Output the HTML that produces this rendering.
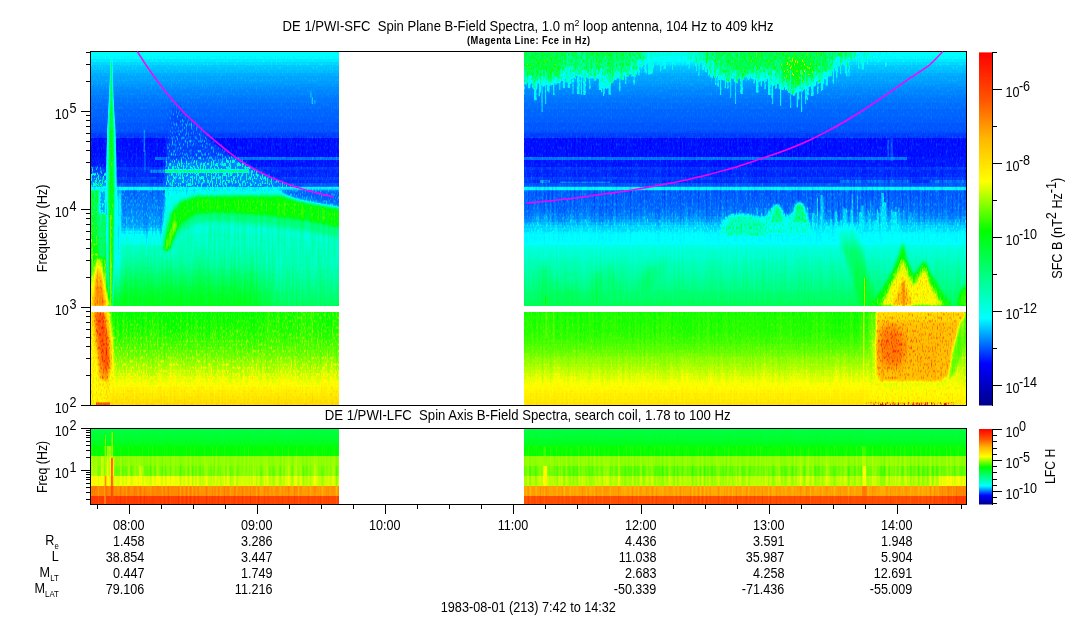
<!DOCTYPE html>
<html><head><meta charset="utf-8"><title>DE 1/PWI-SFC Spin Plane B-Field Spectra</title>
<style>html,body{margin:0;padding:0;background:#fff}svg{display:block}text{font-family:"Liberation Sans",Arial,Helvetica,sans-serif;fill:#000}</style></head><body>
<svg width="1083" height="620" viewBox="0 0 1083 620">
<defs>
<linearGradient id="cb" x1="0" y1="1" x2="0" y2="0"><stop offset="0.0000" stop-color="#000089"/><stop offset="0.1176" stop-color="#0000ff"/><stop offset="0.2471" stop-color="#00ffff"/><stop offset="0.4941" stop-color="#00ff00"/><stop offset="0.6353" stop-color="#ffff00"/><stop offset="0.7529" stop-color="#ffb900"/><stop offset="0.8667" stop-color="#ff5400"/><stop offset="1.0000" stop-color="#ff0000"/></linearGradient>
<filter id="cm" filterUnits="userSpaceOnUse" x="90" y="51" width="876" height="454" color-interpolation-filters="sRGB"><feColorMatrix in="SourceGraphic" type="matrix" values="1 0 0 0 0 1 0 0 0 0 1 0 0 0 0 0 0 0 0 1" result="idx"/><feColorMatrix in="SourceGraphic" type="matrix" values="0 1 0 0 0 0 1 0 0 0 0 1 0 0 0 0 0 0 0 1" result="ga"/><feColorMatrix in="SourceGraphic" type="matrix" values="0 0 1 0 0 0 0 1 0 0 0 0 1 0 0 0 0 0 0 1" result="sa"/><feTurbulence type="fractalNoise" baseFrequency="0.8 0.3" numOctaves="1" seed="5"/><feColorMatrix type="matrix" values="1 0 0 0 0 1 0 0 0 0 1 0 0 0 0 0 0 0 0 1" result="ng"/><feTurbulence type="fractalNoise" baseFrequency="0.5 0.02" numOctaves="1" seed="3"/><feColorMatrix type="matrix" values="1 0 0 0 0 1 0 0 0 0 1 0 0 0 0 0 0 0 0 1" result="ns"/><feComposite in="ng" in2="ga" operator="arithmetic" k1="2.0" k2="0" k3="-1.0" k4="0" result="t1"/><feComposite in="ns" in2="sa" operator="arithmetic" k1="2.0" k2="0" k3="-1.0" k4="0.5" result="t2"/><feComposite in="idx" in2="t1" operator="arithmetic" k1="0" k2="1" k3="1" k4="0" result="u1"/><feComposite in="u1" in2="t2" operator="arithmetic" k1="0" k2="1" k3="1" k4="-0.5" result="u2"/><feComponentTransfer in="u2"><feFuncR type="table" tableValues="0 0 0 0 0 0 0 0 0 0 0 0 0 0 0 0 0 0 0 0 0 0 0 0 0 0 0 0 0 0 0 0 0 0 0 0 0 0 0 0 0 0 0 0 0 0 0 0 0 0 0 0 0 0 0 0 0 0 0 0 0 0 0 0 0 0 0 0 0 0 0 0 0 0 0 0 0 0 0 0 0 0 0 0 0 0 0 0 0 0 0 0 0 0 0 0 0 0 0 0 0 0 0 0 0 0 0 0 0 0 0 0 0 0 0 0 0 0 0 0 0 0 0 0 0 0 0 0.027 0.055 0.082 0.11 0.137 0.165 0.196 0.224 0.251 0.278 0.306 0.333 0.361 0.388 0.416 0.443 0.471 0.502 0.529 0.557 0.584 0.612 0.639 0.667 0.694 0.722 0.749 0.776 0.804 0.831 0.863 0.89 0.918 0.945 0.973 1 1 1 1 1 1 1 1 1 1 1 1 1 1 1 1 1 1 1 1 1 1 1 1 1 1 1 1 1 1 1 1 1 1 1 1 1 1 1 1 1 1 1 1 1 1 1 1 1 1 1 1 1 1 1 1 1 1 1 1 1 1 1 1 1 1 1 1 1 1 1 1 1 1 1 1 1 1 1 1 1 1 1 1 1 1 1 1 1 1 1 1 1 1"/><feFuncG type="table" tableValues="0 0 0 0 0 0 0 0 0 0 0 0 0 0 0 0 0 0 0 0 0 0 0 0 0 0 0 0 0 0 0 0.031 0.059 0.09 0.122 0.153 0.18 0.212 0.243 0.275 0.302 0.333 0.365 0.392 0.424 0.455 0.486 0.514 0.545 0.576 0.608 0.635 0.667 0.698 0.725 0.757 0.788 0.82 0.847 0.878 0.91 0.941 0.969 1 1 1 1 1 1 1 1 1 1 1 1 1 1 1 1 1 1 1 1 1 1 1 1 1 1 1 1 1 1 1 1 1 1 1 1 1 1 1 1 1 1 1 1 1 1 1 1 1 1 1 1 1 1 1 1 1 1 1 1 1 1 1 1 1 1 1 1 1 1 1 1 1 1 1 1 1 1 1 1 1 1 1 1 1 1 1 1 1 1 1 1 1 1 1 1 1 1 1 1 0.992 0.98 0.973 0.965 0.953 0.945 0.937 0.925 0.918 0.91 0.898 0.89 0.882 0.871 0.863 0.855 0.843 0.835 0.827 0.816 0.808 0.8 0.788 0.78 0.773 0.761 0.753 0.745 0.733 0.725 0.714 0.698 0.686 0.671 0.659 0.643 0.631 0.616 0.604 0.588 0.576 0.561 0.549 0.533 0.522 0.506 0.494 0.478 0.467 0.451 0.439 0.424 0.412 0.396 0.384 0.369 0.357 0.341 0.329 0.322 0.31 0.302 0.29 0.282 0.271 0.263 0.251 0.243 0.231 0.224 0.212 0.204 0.192 0.184 0.173 0.165 0.157 0.145 0.137 0.125 0.118 0.106 0.098 0.086 0.078 0.067 0.059 0.047 0.039 0.027 0.02 0.008 0"/><feFuncB type="table" tableValues="0.537 0.553 0.569 0.584 0.6 0.616 0.631 0.647 0.659 0.675 0.69 0.706 0.722 0.737 0.753 0.769 0.784 0.8 0.816 0.831 0.847 0.863 0.878 0.89 0.906 0.922 0.937 0.953 0.969 0.984 1 1 1 1 1 1 1 1 1 1 1 1 1 1 1 1 1 1 1 1 1 1 1 1 1 1 1 1 1 1 1 1 1 1 0.984 0.969 0.953 0.937 0.922 0.906 0.89 0.875 0.859 0.843 0.824 0.808 0.792 0.776 0.761 0.745 0.729 0.714 0.698 0.682 0.667 0.651 0.635 0.62 0.604 0.588 0.573 0.557 0.541 0.525 0.51 0.49 0.475 0.459 0.443 0.427 0.412 0.396 0.38 0.365 0.349 0.333 0.318 0.302 0.286 0.271 0.255 0.239 0.224 0.208 0.192 0.176 0.157 0.141 0.125 0.11 0.094 0.078 0.063 0.047 0.031 0.016 0 0 0 0 0 0 0 0 0 0 0 0 0 0 0 0 0 0 0 0 0 0 0 0 0 0 0 0 0 0 0 0 0 0 0 0 0 0 0 0 0 0 0 0 0 0 0 0 0 0 0 0 0 0 0 0 0 0 0 0 0 0 0 0 0 0 0 0 0 0 0 0 0 0 0 0 0 0 0 0 0 0 0 0 0 0 0 0 0 0 0 0 0 0 0 0 0 0 0 0 0 0 0 0 0 0 0 0 0 0 0 0 0 0 0 0 0 0 0 0 0 0 0 0 0 0 0 0 0 0"/><feFuncA type="linear" slope="0" intercept="1"/></feComponentTransfer></filter>
<filter id="b05" x="-1" y="-1" width="3" height="3" color-interpolation-filters="sRGB"><feGaussianBlur stdDeviation="0.5"/></filter>
<filter id="b1" x="-1" y="-1" width="3" height="3" color-interpolation-filters="sRGB"><feGaussianBlur stdDeviation="1"/></filter>
<filter id="b15" x="-1" y="-1" width="3" height="3" color-interpolation-filters="sRGB"><feGaussianBlur stdDeviation="1.5"/></filter>
<filter id="b2" x="-1" y="-1" width="3" height="3" color-interpolation-filters="sRGB"><feGaussianBlur stdDeviation="2"/></filter>
<filter id="b3" x="-1" y="-1" width="3" height="3" color-interpolation-filters="sRGB"><feGaussianBlur stdDeviation="3"/></filter>
<filter id="b4" x="-1" y="-1" width="3" height="3" color-interpolation-filters="sRGB"><feGaussianBlur stdDeviation="4"/></filter>
<filter id="b6" x="-1" y="-1" width="3" height="3" color-interpolation-filters="sRGB"><feGaussianBlur stdDeviation="6"/></filter>
<filter id="b8" x="-1" y="-1" width="3" height="3" color-interpolation-filters="sRGB"><feGaussianBlur stdDeviation="8"/></filter>
<filter id="b12" x="-1" y="-1" width="3" height="3" color-interpolation-filters="sRGB"><feGaussianBlur stdDeviation="12"/></filter>
<clipPath id="cp"><rect x="90" y="51" width="249.0" height="354"/><rect x="524.0" y="51" width="442.0" height="354"/><rect x="90" y="428" width="249.0" height="76"/><rect x="524.0" y="428" width="442.0" height="76"/></clipPath>
<linearGradient id="g1" gradientUnits="userSpaceOnUse" x1="0" y1="51" x2="0" y2="405"><stop offset="0.0000" stop-color="#3f0500"/><stop offset="0.0078" stop-color="#3f0500"/><stop offset="0.0078" stop-color="#3e0500"/><stop offset="0.0155" stop-color="#3e0500"/><stop offset="0.0155" stop-color="#3d0500"/><stop offset="0.0233" stop-color="#3d0500"/><stop offset="0.0233" stop-color="#3b0500"/><stop offset="0.0311" stop-color="#3b0500"/><stop offset="0.0311" stop-color="#390500"/><stop offset="0.0388" stop-color="#390500"/><stop offset="0.0388" stop-color="#370500"/><stop offset="0.0466" stop-color="#370500"/><stop offset="0.0466" stop-color="#360500"/><stop offset="0.0544" stop-color="#360500"/><stop offset="0.0544" stop-color="#350500"/><stop offset="0.0621" stop-color="#350500"/><stop offset="0.0621" stop-color="#330500"/><stop offset="0.0699" stop-color="#330500"/><stop offset="0.0699" stop-color="#320500"/><stop offset="0.0777" stop-color="#320500"/><stop offset="0.0777" stop-color="#320500"/><stop offset="0.0855" stop-color="#320500"/><stop offset="0.0855" stop-color="#310500"/><stop offset="0.0932" stop-color="#310500"/><stop offset="0.0932" stop-color="#300500"/><stop offset="0.1010" stop-color="#300500"/><stop offset="0.1010" stop-color="#2f0500"/><stop offset="0.1088" stop-color="#2f0500"/><stop offset="0.1088" stop-color="#2e0500"/><stop offset="0.1165" stop-color="#2e0500"/><stop offset="0.1165" stop-color="#2e0500"/><stop offset="0.1243" stop-color="#2e0500"/><stop offset="0.1243" stop-color="#2d0500"/><stop offset="0.1321" stop-color="#2d0500"/><stop offset="0.1321" stop-color="#2c0500"/><stop offset="0.1398" stop-color="#2c0500"/><stop offset="0.1398" stop-color="#2c0500"/><stop offset="0.1476" stop-color="#2c0500"/><stop offset="0.1476" stop-color="#2b0500"/><stop offset="0.1554" stop-color="#2b0500"/><stop offset="0.1554" stop-color="#2b0500"/><stop offset="0.1631" stop-color="#2b0500"/><stop offset="0.1631" stop-color="#2a0500"/><stop offset="0.1709" stop-color="#2a0500"/><stop offset="0.1709" stop-color="#2a0500"/><stop offset="0.1787" stop-color="#2a0500"/><stop offset="0.1787" stop-color="#2a0500"/><stop offset="0.1864" stop-color="#2a0500"/><stop offset="0.1864" stop-color="#290500"/><stop offset="0.1942" stop-color="#290500"/><stop offset="0.1942" stop-color="#290500"/><stop offset="0.2020" stop-color="#290500"/><stop offset="0.2020" stop-color="#280500"/><stop offset="0.2097" stop-color="#280500"/><stop offset="0.2097" stop-color="#280500"/><stop offset="0.2175" stop-color="#280500"/><stop offset="0.2175" stop-color="#280500"/><stop offset="0.2253" stop-color="#280500"/><stop offset="0.2253" stop-color="#270500"/><stop offset="0.2328" stop-color="#270500"/><stop offset="0.2328" stop-color="#250500"/><stop offset="0.2444" stop-color="#250a03"/><stop offset="0.2444" stop-color="#1f0a03"/><stop offset="0.2986" stop-color="#1f0a03"/><stop offset="0.2986" stop-color="#2c0a03"/><stop offset="0.3085" stop-color="#2c0a03"/><stop offset="0.3085" stop-color="#200a03"/><stop offset="0.3277" stop-color="#200a03"/><stop offset="0.3277" stop-color="#240a03"/><stop offset="0.3367" stop-color="#240a03"/><stop offset="0.3367" stop-color="#220a03"/><stop offset="0.3551" stop-color="#220a03"/><stop offset="0.3551" stop-color="#250a03"/><stop offset="0.3644" stop-color="#250a03"/><stop offset="0.3644" stop-color="#230a03"/><stop offset="0.3734" stop-color="#230a03"/><stop offset="0.3734" stop-color="#280a03"/><stop offset="0.3836" stop-color="#280a03"/><stop offset="0.3836" stop-color="#3d0a03"/><stop offset="0.3935" stop-color="#3d1205"/><stop offset="0.3935" stop-color="#2a1205"/><stop offset="0.4017" stop-color="#2a1205"/><stop offset="0.4017" stop-color="#2b1205"/><stop offset="0.4098" stop-color="#2b1205"/><stop offset="0.4098" stop-color="#2b1205"/><stop offset="0.4180" stop-color="#2b1205"/><stop offset="0.4180" stop-color="#2c1205"/><stop offset="0.4262" stop-color="#2c1205"/><stop offset="0.4262" stop-color="#2c1205"/><stop offset="0.4343" stop-color="#2c1205"/><stop offset="0.4343" stop-color="#2d1205"/><stop offset="0.4425" stop-color="#2d1205"/><stop offset="0.4425" stop-color="#2d1205"/><stop offset="0.4506" stop-color="#2d1205"/><stop offset="0.4506" stop-color="#2e1205"/><stop offset="0.4588" stop-color="#2e1205"/><stop offset="0.4588" stop-color="#2e1205"/><stop offset="0.4670" stop-color="#2e1205"/><stop offset="0.4670" stop-color="#2f1205"/><stop offset="0.4751" stop-color="#2f1205"/><stop offset="0.4751" stop-color="#301205"/><stop offset="0.4833" stop-color="#301205"/><stop offset="0.4833" stop-color="#301205"/><stop offset="0.4915" stop-color="#301205"/><stop offset="0.4915" stop-color="#321205"/><stop offset="0.4996" stop-color="#321205"/><stop offset="0.4996" stop-color="#361205"/><stop offset="0.5078" stop-color="#360d0d"/><stop offset="0.5078" stop-color="#3b0d0d"/><stop offset="0.5160" stop-color="#3b0d0d"/><stop offset="0.5160" stop-color="#3e0d0d"/><stop offset="0.5241" stop-color="#3e0d0d"/><stop offset="0.5241" stop-color="#3f0d0d"/><stop offset="0.5323" stop-color="#3f0d0d"/><stop offset="0.5323" stop-color="#400d0d"/><stop offset="0.5405" stop-color="#400d0d"/><stop offset="0.5405" stop-color="#410d0d"/><stop offset="0.5486" stop-color="#410d0d"/><stop offset="0.5486" stop-color="#4a0d0d"/><stop offset="0.5568" stop-color="#4a0d0d"/><stop offset="0.5568" stop-color="#4b0d0d"/><stop offset="0.5649" stop-color="#4b0d0d"/><stop offset="0.5649" stop-color="#4c0d0d"/><stop offset="0.5731" stop-color="#4c0d0d"/><stop offset="0.5731" stop-color="#4d0d0d"/><stop offset="0.5813" stop-color="#4d0d0d"/><stop offset="0.5813" stop-color="#4e0d0d"/><stop offset="0.5894" stop-color="#4e0d0d"/><stop offset="0.5894" stop-color="#4f0d0d"/><stop offset="0.5976" stop-color="#4f0d0d"/><stop offset="0.5976" stop-color="#500d0d"/><stop offset="0.6058" stop-color="#500d0d"/><stop offset="0.6058" stop-color="#510d0d"/><stop offset="0.6139" stop-color="#510d0d"/><stop offset="0.6139" stop-color="#520d0d"/><stop offset="0.6221" stop-color="#520d0d"/><stop offset="0.6221" stop-color="#530d0d"/><stop offset="0.6303" stop-color="#530d0d"/><stop offset="0.6303" stop-color="#550d0d"/><stop offset="0.6384" stop-color="#550d0d"/><stop offset="0.6384" stop-color="#560d0d"/><stop offset="0.6466" stop-color="#560d0d"/><stop offset="0.6466" stop-color="#580d0d"/><stop offset="0.6547" stop-color="#580d0d"/><stop offset="0.6547" stop-color="#590d0d"/><stop offset="0.6629" stop-color="#590d0d"/><stop offset="0.6629" stop-color="#5b0d0d"/><stop offset="0.6711" stop-color="#5b0d0d"/><stop offset="0.6711" stop-color="#5c0d0d"/><stop offset="0.6792" stop-color="#5c0d0d"/><stop offset="0.6792" stop-color="#5e0d0d"/><stop offset="0.6874" stop-color="#5e0d0d"/><stop offset="0.6874" stop-color="#600d0d"/><stop offset="0.6956" stop-color="#600d0d"/><stop offset="0.6956" stop-color="#610d0d"/><stop offset="0.7037" stop-color="#610d0d"/><stop offset="0.7037" stop-color="#630d0d"/><stop offset="0.7119" stop-color="#630d0d"/><stop offset="0.7119" stop-color="#650d0d"/><stop offset="0.7201" stop-color="#650d0d"/><stop offset="0.7201" stop-color="#660d0d"/><stop offset="0.7203" stop-color="#661f08"/><stop offset="0.7203" stop-color="#661f08"/><stop offset="0.7373" stop-color="#801f08"/><stop offset="0.7373" stop-color="#801f08"/><stop offset="0.7455" stop-color="#801f08"/><stop offset="0.7455" stop-color="#811f08"/><stop offset="0.7537" stop-color="#811f08"/><stop offset="0.7537" stop-color="#811f08"/><stop offset="0.7619" stop-color="#811f08"/><stop offset="0.7619" stop-color="#811f08"/><stop offset="0.7701" stop-color="#811f08"/><stop offset="0.7701" stop-color="#821f08"/><stop offset="0.7782" stop-color="#821f08"/><stop offset="0.7782" stop-color="#821f08"/><stop offset="0.7864" stop-color="#821f08"/><stop offset="0.7864" stop-color="#821f08"/><stop offset="0.7946" stop-color="#821f08"/><stop offset="0.7946" stop-color="#831f08"/><stop offset="0.8028" stop-color="#831f08"/><stop offset="0.8028" stop-color="#841f08"/><stop offset="0.8110" stop-color="#841f08"/><stop offset="0.8110" stop-color="#851f08"/><stop offset="0.8192" stop-color="#851f08"/><stop offset="0.8192" stop-color="#861f08"/><stop offset="0.8274" stop-color="#861f08"/><stop offset="0.8274" stop-color="#871f08"/><stop offset="0.8356" stop-color="#871f08"/><stop offset="0.8356" stop-color="#881f08"/><stop offset="0.8438" stop-color="#881f08"/><stop offset="0.8438" stop-color="#8a1f08"/><stop offset="0.8520" stop-color="#8a1f08"/><stop offset="0.8520" stop-color="#8b1f08"/><stop offset="0.8602" stop-color="#8b1f08"/><stop offset="0.8602" stop-color="#8d1f08"/><stop offset="0.8684" stop-color="#8d1f08"/><stop offset="0.8684" stop-color="#8f1f08"/><stop offset="0.8766" stop-color="#8f1f08"/><stop offset="0.8766" stop-color="#911f08"/><stop offset="0.8847" stop-color="#911f08"/><stop offset="0.8847" stop-color="#931f08"/><stop offset="0.8929" stop-color="#931f08"/><stop offset="0.8929" stop-color="#951f08"/><stop offset="0.9011" stop-color="#951f08"/><stop offset="0.9011" stop-color="#971f08"/><stop offset="0.9093" stop-color="#971f08"/><stop offset="0.9093" stop-color="#991f08"/><stop offset="0.9175" stop-color="#991f08"/><stop offset="0.9175" stop-color="#9c1f08"/><stop offset="0.9257" stop-color="#9c1f08"/><stop offset="0.9257" stop-color="#9e1f08"/><stop offset="0.9339" stop-color="#9e0f08"/><stop offset="0.9339" stop-color="#a00f08"/><stop offset="0.9421" stop-color="#a00f08"/><stop offset="0.9421" stop-color="#a20f08"/><stop offset="0.9503" stop-color="#a20f08"/><stop offset="0.9503" stop-color="#a50f08"/><stop offset="0.9585" stop-color="#a50f08"/><stop offset="0.9585" stop-color="#a70f08"/><stop offset="0.9667" stop-color="#a70f08"/><stop offset="0.9667" stop-color="#a90f08"/><stop offset="0.9749" stop-color="#a90f08"/><stop offset="0.9749" stop-color="#ab0f08"/><stop offset="0.9831" stop-color="#ab0f08"/><stop offset="0.9831" stop-color="#ad0f08"/><stop offset="0.9912" stop-color="#ad0f08"/><stop offset="0.9912" stop-color="#af0f08"/><stop offset="0.9994" stop-color="#af0f08"/><stop offset="0.9994" stop-color="#b00f08"/><stop offset="1.0000" stop-color="#b00f08"/><stop offset="1.0000" stop-color="#b00f08"/></linearGradient><linearGradient id="g2" gradientUnits="userSpaceOnUse" x1="0" y1="51" x2="0" y2="405"><stop offset="0.0000" stop-color="#3f0500"/><stop offset="0.0078" stop-color="#3f0500"/><stop offset="0.0078" stop-color="#3e0500"/><stop offset="0.0155" stop-color="#3e0500"/><stop offset="0.0155" stop-color="#3d0500"/><stop offset="0.0233" stop-color="#3d0500"/><stop offset="0.0233" stop-color="#3b0500"/><stop offset="0.0311" stop-color="#3b0500"/><stop offset="0.0311" stop-color="#390500"/><stop offset="0.0388" stop-color="#390500"/><stop offset="0.0388" stop-color="#370500"/><stop offset="0.0466" stop-color="#370500"/><stop offset="0.0466" stop-color="#360500"/><stop offset="0.0544" stop-color="#360500"/><stop offset="0.0544" stop-color="#350500"/><stop offset="0.0621" stop-color="#350500"/><stop offset="0.0621" stop-color="#330500"/><stop offset="0.0699" stop-color="#330500"/><stop offset="0.0699" stop-color="#320500"/><stop offset="0.0777" stop-color="#320500"/><stop offset="0.0777" stop-color="#320500"/><stop offset="0.0855" stop-color="#320500"/><stop offset="0.0855" stop-color="#310500"/><stop offset="0.0932" stop-color="#310500"/><stop offset="0.0932" stop-color="#300500"/><stop offset="0.1010" stop-color="#300500"/><stop offset="0.1010" stop-color="#2f0500"/><stop offset="0.1088" stop-color="#2f0500"/><stop offset="0.1088" stop-color="#2e0500"/><stop offset="0.1165" stop-color="#2e0500"/><stop offset="0.1165" stop-color="#2e0500"/><stop offset="0.1243" stop-color="#2e0500"/><stop offset="0.1243" stop-color="#2d0500"/><stop offset="0.1321" stop-color="#2d0500"/><stop offset="0.1321" stop-color="#2c0500"/><stop offset="0.1398" stop-color="#2c0500"/><stop offset="0.1398" stop-color="#2c0500"/><stop offset="0.1476" stop-color="#2c0500"/><stop offset="0.1476" stop-color="#2b0500"/><stop offset="0.1554" stop-color="#2b0500"/><stop offset="0.1554" stop-color="#2b0500"/><stop offset="0.1631" stop-color="#2b0500"/><stop offset="0.1631" stop-color="#2a0500"/><stop offset="0.1709" stop-color="#2a0500"/><stop offset="0.1709" stop-color="#2a0500"/><stop offset="0.1787" stop-color="#2a0500"/><stop offset="0.1787" stop-color="#2a0500"/><stop offset="0.1864" stop-color="#2a0500"/><stop offset="0.1864" stop-color="#290500"/><stop offset="0.1942" stop-color="#290500"/><stop offset="0.1942" stop-color="#290500"/><stop offset="0.2020" stop-color="#290500"/><stop offset="0.2020" stop-color="#280500"/><stop offset="0.2097" stop-color="#280500"/><stop offset="0.2097" stop-color="#280500"/><stop offset="0.2175" stop-color="#280500"/><stop offset="0.2175" stop-color="#280500"/><stop offset="0.2253" stop-color="#280500"/><stop offset="0.2253" stop-color="#270500"/><stop offset="0.2328" stop-color="#270500"/><stop offset="0.2328" stop-color="#250500"/><stop offset="0.2444" stop-color="#250a03"/><stop offset="0.2444" stop-color="#1f0a03"/><stop offset="0.2986" stop-color="#1f0a03"/><stop offset="0.2986" stop-color="#2c0a03"/><stop offset="0.3085" stop-color="#2c0a03"/><stop offset="0.3085" stop-color="#200a03"/><stop offset="0.3277" stop-color="#200a03"/><stop offset="0.3277" stop-color="#240a03"/><stop offset="0.3367" stop-color="#240a03"/><stop offset="0.3367" stop-color="#220a03"/><stop offset="0.3551" stop-color="#220a03"/><stop offset="0.3551" stop-color="#250a03"/><stop offset="0.3644" stop-color="#250a03"/><stop offset="0.3644" stop-color="#230a03"/><stop offset="0.3734" stop-color="#230a03"/><stop offset="0.3734" stop-color="#280a03"/><stop offset="0.3836" stop-color="#280a03"/><stop offset="0.3836" stop-color="#3d0a03"/><stop offset="0.3935" stop-color="#3d0d08"/><stop offset="0.3935" stop-color="#280d08"/><stop offset="0.4017" stop-color="#280d08"/><stop offset="0.4017" stop-color="#290d08"/><stop offset="0.4098" stop-color="#290d08"/><stop offset="0.4098" stop-color="#290d08"/><stop offset="0.4180" stop-color="#290d08"/><stop offset="0.4180" stop-color="#290d08"/><stop offset="0.4262" stop-color="#290d08"/><stop offset="0.4262" stop-color="#2a0d08"/><stop offset="0.4343" stop-color="#2a0d08"/><stop offset="0.4343" stop-color="#2a0d08"/><stop offset="0.4425" stop-color="#2a0d08"/><stop offset="0.4425" stop-color="#2b0d08"/><stop offset="0.4506" stop-color="#2b0d08"/><stop offset="0.4506" stop-color="#2c0d08"/><stop offset="0.4588" stop-color="#2c0d08"/><stop offset="0.4588" stop-color="#2d0d08"/><stop offset="0.4670" stop-color="#2d0d08"/><stop offset="0.4670" stop-color="#2f0d08"/><stop offset="0.4751" stop-color="#2f0d08"/><stop offset="0.4751" stop-color="#310d08"/><stop offset="0.4833" stop-color="#310d08"/><stop offset="0.4833" stop-color="#350d08"/><stop offset="0.4915" stop-color="#350d08"/><stop offset="0.4915" stop-color="#390d08"/><stop offset="0.4996" stop-color="#390503"/><stop offset="0.4996" stop-color="#3c0503"/><stop offset="0.5078" stop-color="#3c0503"/><stop offset="0.5078" stop-color="#3d0503"/><stop offset="0.5160" stop-color="#3d0503"/><stop offset="0.5160" stop-color="#3e0503"/><stop offset="0.5241" stop-color="#3e0503"/><stop offset="0.5241" stop-color="#3e0503"/><stop offset="0.5323" stop-color="#3e0503"/><stop offset="0.5323" stop-color="#3e0503"/><stop offset="0.5405" stop-color="#3e0503"/><stop offset="0.5405" stop-color="#3f0503"/><stop offset="0.5486" stop-color="#3f0503"/><stop offset="0.5486" stop-color="#450503"/><stop offset="0.5568" stop-color="#450809"/><stop offset="0.5568" stop-color="#470809"/><stop offset="0.5649" stop-color="#470809"/><stop offset="0.5649" stop-color="#490809"/><stop offset="0.5731" stop-color="#490809"/><stop offset="0.5731" stop-color="#4a0809"/><stop offset="0.5813" stop-color="#4a0809"/><stop offset="0.5813" stop-color="#4c0809"/><stop offset="0.5894" stop-color="#4c0809"/><stop offset="0.5894" stop-color="#4e0809"/><stop offset="0.5976" stop-color="#4e0809"/><stop offset="0.5976" stop-color="#4f0809"/><stop offset="0.6058" stop-color="#4f0809"/><stop offset="0.6058" stop-color="#510809"/><stop offset="0.6139" stop-color="#510809"/><stop offset="0.6139" stop-color="#520809"/><stop offset="0.6221" stop-color="#520809"/><stop offset="0.6221" stop-color="#540809"/><stop offset="0.6303" stop-color="#540809"/><stop offset="0.6303" stop-color="#560809"/><stop offset="0.6384" stop-color="#560809"/><stop offset="0.6384" stop-color="#570809"/><stop offset="0.6466" stop-color="#570809"/><stop offset="0.6466" stop-color="#590809"/><stop offset="0.6547" stop-color="#590809"/><stop offset="0.6547" stop-color="#5b0809"/><stop offset="0.6629" stop-color="#5b0809"/><stop offset="0.6629" stop-color="#5c0809"/><stop offset="0.6711" stop-color="#5c0809"/><stop offset="0.6711" stop-color="#5e0809"/><stop offset="0.6792" stop-color="#5e0809"/><stop offset="0.6792" stop-color="#600809"/><stop offset="0.6874" stop-color="#600809"/><stop offset="0.6874" stop-color="#620809"/><stop offset="0.6956" stop-color="#620809"/><stop offset="0.6956" stop-color="#630809"/><stop offset="0.7037" stop-color="#630809"/><stop offset="0.7037" stop-color="#650809"/><stop offset="0.7119" stop-color="#650809"/><stop offset="0.7119" stop-color="#670809"/><stop offset="0.7201" stop-color="#670809"/><stop offset="0.7201" stop-color="#680809"/><stop offset="0.7203" stop-color="#680d06"/><stop offset="0.7203" stop-color="#680d06"/><stop offset="0.7373" stop-color="#800d06"/><stop offset="0.7373" stop-color="#800d06"/><stop offset="0.7455" stop-color="#800d06"/><stop offset="0.7455" stop-color="#810d06"/><stop offset="0.7537" stop-color="#810d06"/><stop offset="0.7537" stop-color="#810d06"/><stop offset="0.7619" stop-color="#810d06"/><stop offset="0.7619" stop-color="#810d06"/><stop offset="0.7701" stop-color="#810d06"/><stop offset="0.7701" stop-color="#820d06"/><stop offset="0.7782" stop-color="#820d06"/><stop offset="0.7782" stop-color="#820d06"/><stop offset="0.7864" stop-color="#820d06"/><stop offset="0.7864" stop-color="#820d06"/><stop offset="0.7946" stop-color="#820d06"/><stop offset="0.7946" stop-color="#830d06"/><stop offset="0.8028" stop-color="#830d06"/><stop offset="0.8028" stop-color="#840d06"/><stop offset="0.8110" stop-color="#840d06"/><stop offset="0.8110" stop-color="#850d06"/><stop offset="0.8192" stop-color="#850d06"/><stop offset="0.8192" stop-color="#860d06"/><stop offset="0.8274" stop-color="#860d06"/><stop offset="0.8274" stop-color="#880d06"/><stop offset="0.8356" stop-color="#880d06"/><stop offset="0.8356" stop-color="#890d06"/><stop offset="0.8438" stop-color="#890d06"/><stop offset="0.8438" stop-color="#8b0d06"/><stop offset="0.8520" stop-color="#8b0d06"/><stop offset="0.8520" stop-color="#8d0d06"/><stop offset="0.8602" stop-color="#8d0d06"/><stop offset="0.8602" stop-color="#8f0d06"/><stop offset="0.8684" stop-color="#8f0d06"/><stop offset="0.8684" stop-color="#910d06"/><stop offset="0.8766" stop-color="#910d06"/><stop offset="0.8766" stop-color="#920d06"/><stop offset="0.8847" stop-color="#920d06"/><stop offset="0.8847" stop-color="#940d06"/><stop offset="0.8929" stop-color="#940d06"/><stop offset="0.8929" stop-color="#960d06"/><stop offset="0.9011" stop-color="#960d06"/><stop offset="0.9011" stop-color="#980d06"/><stop offset="0.9093" stop-color="#980d06"/><stop offset="0.9093" stop-color="#9a0d06"/><stop offset="0.9175" stop-color="#9a0d06"/><stop offset="0.9175" stop-color="#9c0d06"/><stop offset="0.9257" stop-color="#9c0d06"/><stop offset="0.9257" stop-color="#9e0d06"/><stop offset="0.9339" stop-color="#9e0a06"/><stop offset="0.9339" stop-color="#a00a06"/><stop offset="0.9421" stop-color="#a00a06"/><stop offset="0.9421" stop-color="#a10a06"/><stop offset="0.9503" stop-color="#a10a06"/><stop offset="0.9503" stop-color="#a30a06"/><stop offset="0.9585" stop-color="#a30a06"/><stop offset="0.9585" stop-color="#a50a06"/><stop offset="0.9667" stop-color="#a50a06"/><stop offset="0.9667" stop-color="#a70a06"/><stop offset="0.9749" stop-color="#a70a06"/><stop offset="0.9749" stop-color="#a80a06"/><stop offset="0.9831" stop-color="#a80a06"/><stop offset="0.9831" stop-color="#aa0a06"/><stop offset="0.9912" stop-color="#aa0a06"/><stop offset="0.9912" stop-color="#ac0a06"/><stop offset="0.9994" stop-color="#ac0a06"/><stop offset="0.9994" stop-color="#ad0a06"/><stop offset="1.0000" stop-color="#ad0a06"/><stop offset="1.0000" stop-color="#ad0a06"/></linearGradient><linearGradient id="g3" gradientUnits="userSpaceOnUse" x1="0" y1="190.3" x2="0" y2="262"><stop offset="0.0000" stop-color="#3e0d0d"/><stop offset="0.1353" stop-color="#420d0d"/><stop offset="0.7768" stop-color="#440d0d"/><stop offset="1.0000" stop-color="#4a0d0d" stop-opacity="0.0"/></linearGradient><linearGradient id="g4" gradientUnits="userSpaceOnUse" x1="0" y1="252" x2="0" y2="320"><stop offset="0.0000" stop-color="#740d0d" stop-opacity="0"/><stop offset="0.4118" stop-color="#740d0d" stop-opacity="0.5"/><stop offset="0.7941" stop-color="#7c0d0d" stop-opacity="0.95"/><stop offset="1.0000" stop-color="#7c0d0d" stop-opacity="0.95"/></linearGradient><linearGradient id="g5" gradientUnits="userSpaceOnUse" x1="0" y1="164" x2="0" y2="306"><stop offset="0.0000" stop-color="#288000" stop-opacity="0"/><stop offset="0.1127" stop-color="#2e9900" stop-opacity="0.9"/><stop offset="0.1606" stop-color="#349900" stop-opacity="0.9"/><stop offset="0.1901" stop-color="#644c1a"/><stop offset="0.5352" stop-color="#724c1a"/><stop offset="0.6901" stop-color="#82331a"/><stop offset="1.0000" stop-color="#960d0d"/></linearGradient><linearGradient id="g6" gradientUnits="userSpaceOnUse" x1="0" y1="186" x2="0" y2="306"><stop offset="0.0000" stop-color="#3f0d0d" stop-opacity="0.3"/><stop offset="0.1167" stop-color="#3f0d0d"/><stop offset="0.6333" stop-color="#420d0d"/><stop offset="0.8667" stop-color="#5a0d0d" stop-opacity="0.6"/><stop offset="1.0000" stop-color="#6e0d0d" stop-opacity="0"/></linearGradient><linearGradient id="g7" gradientUnits="userSpaceOnUse" x1="0" y1="222" x2="0" y2="306"><stop offset="0.0000" stop-color="#640d0d" stop-opacity="0.0"/><stop offset="0.3333" stop-color="#700d0d" stop-opacity="0.6"/><stop offset="1.0000" stop-color="#780d0d" stop-opacity="0.8"/></linearGradient><linearGradient id="g8" gradientUnits="userSpaceOnUse" x1="0" y1="428" x2="0" y2="504.5"><stop offset="0.0000" stop-color="#6c0003"/><stop offset="0.2353" stop-color="#770003"/><stop offset="0.2353" stop-color="#7e000a"/><stop offset="0.3673" stop-color="#7e000a"/><stop offset="0.3673" stop-color="#920008"/><stop offset="0.4980" stop-color="#920008"/><stop offset="0.4980" stop-color="#90000f"/><stop offset="0.6275" stop-color="#90000f"/><stop offset="0.6275" stop-color="#a0000e"/><stop offset="0.7582" stop-color="#a0000e"/><stop offset="0.7582" stop-color="#ce000d"/><stop offset="0.8889" stop-color="#ce000d"/><stop offset="0.8889" stop-color="#e6000d"/><stop offset="1.0000" stop-color="#e6000d"/></linearGradient><linearGradient id="g9" gradientUnits="userSpaceOnUse" x1="0" y1="428" x2="0" y2="504.5"><stop offset="0.0000" stop-color="#6c0003"/><stop offset="0.2353" stop-color="#770003"/><stop offset="0.2353" stop-color="#7f000a"/><stop offset="0.3673" stop-color="#7f000a"/><stop offset="0.3673" stop-color="#920008"/><stop offset="0.4980" stop-color="#920008"/><stop offset="0.4980" stop-color="#8d000f"/><stop offset="0.6275" stop-color="#8d000f"/><stop offset="0.6275" stop-color="#97000e"/><stop offset="0.7582" stop-color="#97000e"/><stop offset="0.7582" stop-color="#c6000d"/><stop offset="0.8889" stop-color="#c6000d"/><stop offset="0.8889" stop-color="#df000d"/><stop offset="1.0000" stop-color="#df000d"/></linearGradient><linearGradient id="g10" gradientUnits="userSpaceOnUse" x1="170" y1="0" x2="339.5" y2="0"><stop offset="0.0000" stop-color="#99000f" stop-opacity="0"/><stop offset="0.3540" stop-color="#99000f" stop-opacity="0.8"/><stop offset="1.0000" stop-color="#99000f"/></linearGradient><linearGradient id="g11" gradientUnits="userSpaceOnUse" x1="150" y1="0" x2="339.5" y2="0"><stop offset="0.0000" stop-color="#c6000f" stop-opacity="0"/><stop offset="1.0000" stop-color="#c6000f" stop-opacity="0.8"/></linearGradient><linearGradient id="g12" gradientUnits="userSpaceOnUse" x1="150" y1="0" x2="339.5" y2="0"><stop offset="0.0000" stop-color="#e0000f" stop-opacity="0"/><stop offset="1.0000" stop-color="#e0000f" stop-opacity="0.8"/></linearGradient><linearGradient id="g13" gradientUnits="userSpaceOnUse" x1="930" y1="0" x2="966" y2="0"><stop offset="0.0000" stop-color="#a0000f" stop-opacity="0"/><stop offset="0.4167" stop-color="#a0000f" stop-opacity="0.8"/><stop offset="1.0000" stop-color="#a0000f" stop-opacity="0.9"/></linearGradient><linearGradient id="g14" gradientUnits="userSpaceOnUse" x1="930" y1="0" x2="966" y2="0"><stop offset="0.0000" stop-color="#d0000f" stop-opacity="0"/><stop offset="1.0000" stop-color="#d0000f"/></linearGradient><linearGradient id="g15" gradientUnits="userSpaceOnUse" x1="930" y1="0" x2="966" y2="0"><stop offset="0.0000" stop-color="#e8000f" stop-opacity="0"/><stop offset="1.0000" stop-color="#e8000f"/></linearGradient>
</defs>
<rect width="1083" height="620" fill="#fff"/>
<g clip-path="url(#cp)"><g filter="url(#cm)">
<rect x="90" y="51" width="876" height="453" fill="#7e0000"/>
<rect x="88.0" y="51.0" width="253.0" height="354.0" fill="url(#g1)"/>
<rect x="522.0" y="51.0" width="446.0" height="354.0" fill="url(#g2)"/>
<polygon points="172.0,112.0 176.0,105.0 184.0,114.1 192.0,122.1 200.0,130.1 208.0,137.7 216.0,144.1 224.0,150.4 232.0,156.4 240.0,161.2 248.0,166.0 256.0,170.7 264.0,174.7 272.0,178.7 280.0,182.4 288.0,185.2 296.0,188.0 300.0,190.0 166.0,190.0 166.0,150.0" fill="#262900" opacity="0.9" filter="url(#b2)"/>
<polygon points="166.0,162.0 236.0,158.8 244.0,163.6 252.0,168.4 260.0,172.7 268.0,176.7 276.0,180.7 284.0,183.8 292.0,186.6 300.0,186.8 166.0,186.8" fill="#306b00" opacity="0.85" filter="url(#b2)"/>
<rect x="88.0" y="156.5" width="67.0" height="4.0" fill="#200a03"/>
<rect x="165.0" y="169.6" width="84.0" height="3.2" fill="#54330d" filter="url(#b05)"/>
<rect x="150.0" y="169.6" width="15.0" height="3.2" fill="#320d0d" opacity="0.8"/>
<rect x="90.0" y="186.8" width="250.0" height="3.5" fill="#3d0808"/>
<rect x="310.0" y="91.0" width="1.5" height="6.0" fill="#3a0d0d" opacity="0.8"/>
<rect x="311.5" y="97.0" width="1.5" height="7.0" fill="#3a0d0d" opacity="0.8"/>
<rect x="314.0" y="100.0" width="1.5" height="4.0" fill="#370d0d" opacity="0.7"/>
<rect x="143.6" y="130.0" width="1.2" height="22.0" fill="#380d0d" opacity="0.7"/>
<rect x="144.4" y="150.0" width="1.2" height="20.0" fill="#360d0d" opacity="0.6"/>
<polygon points="165.0,190.3 281.0,190.3 287.0,197.6 165.0,197.6" fill="#3c9900" filter="url(#b05)"/>
<polygon points="166.0,190.3 340.0,190.3 340.0,262.0 160.0,262.0 163.0,235.0" fill="url(#g3)" filter="url(#b1)"/>
<polygon points="280.0,190.3 340.0,190.3 340.0,209.0 318.0,205.0 296.0,200.5 286.0,195.0" fill="#291a00" filter="url(#b1)"/>
<polygon points="163.0,252.0 166.0,232.0 171.0,214.0 180.0,202.0 196.0,196.5 281.0,196.0 296.0,201.0 318.0,205.5 340.0,209.0 340.0,240.0 310.0,233.0 275.0,227.5 240.0,224.0 212.0,222.0 195.0,224.5 182.0,231.0 174.0,242.0 168.0,252.0" fill="#680f0d" opacity="0.75" filter="url(#b3)"/>
<g filter="url(#b15)">
<polygon points="164.0,250.0 166.5,232.0 171.0,214.0 180.0,202.0 196.0,196.5 281.0,196.0 296.0,201.0 318.0,205.5 340.0,209.0 340.0,228.0 310.0,221.5 275.0,216.5 240.0,213.5 212.0,212.5 196.0,214.5 184.0,221.0 176.0,232.0 169.0,250.0" fill="#7b140f"/>
</g>
<polygon points="196.0,199.0 280.0,199.0 300.0,205.0 340.0,212.0 340.0,222.0 300.0,216.0 260.0,211.0 212.0,209.0 196.0,211.0" fill="#7f1a14" opacity="0.6" filter="url(#b2)"/>
<polygon points="174.0,221.0 178.0,222.0 170.0,248.0 164.5,251.0 166.0,240.0" fill="#8c0d0d" opacity="0.9" filter="url(#b1)"/>
<polygon points="176.0,240.0 190.0,230.0 212.0,227.0 275.0,231.0 340.0,241.0 340.0,262.0 176.0,262.0" fill="#500d14" opacity="0.8" filter="url(#b3)"/>
<rect x="100.0" y="252.0" width="165.0" height="68.0" fill="url(#g4)" filter="url(#b12)"/>
<rect x="88.0" y="164.0" width="18.0" height="142.0" fill="url(#g5)" filter="url(#b05)"/>
<rect x="98.8" y="190.3" width="7.3" height="24.0" fill="#2c3300" opacity="0.9" filter="url(#b1)"/>
<rect x="98.8" y="214.0" width="7.3" height="44.0" fill="#5c0d0d" opacity="0.8" filter="url(#b1)"/>
<rect x="88.0" y="186.8" width="20.0" height="3.5" fill="#3d0808"/>
<rect x="113.0" y="186.0" width="8.0" height="120.0" fill="url(#g6)" filter="url(#b1)"/>
<polygon points="110.6,54.0 112.2,54.0 113.7,100.0 115.5,130.0 116.3,160.0 116.8,190.0 116.0,250.0 113.0,306.0 108.3,306.0 106.0,190.0 106.3,160.0 107.2,130.0 108.8,100.0" fill="#420d0d" filter="url(#b05)"/>
<polygon points="111.0,62.0 111.9,62.0 112.4,100.0 113.4,130.0 114.2,160.0 114.5,190.0 113.5,260.0 112.5,306.0 109.0,306.0 108.2,190.0 108.4,160.0 109.4,130.0 110.3,100.0" fill="#6c331a" filter="url(#b05)"/>
<rect x="110.3" y="130.0" width="1.5" height="176.0" fill="#800d0d" opacity="0.8" filter="url(#b05)"/>
<rect x="109.8" y="215.0" width="1.6" height="91.0" fill="#960d0d" opacity="0.8" filter="url(#b05)"/>
<polygon points="98.6,256.0 104.0,275.0 110.5,306.0 90.0,306.0 90.0,285.0 94.0,270.0" fill="#9e0d0d" filter="url(#b1)"/>
<polygon points="98.6,266.0 102.5,280.0 107.0,306.0 92.0,306.0 95.0,280.0" fill="#be261a" filter="url(#b1)"/>
<polygon points="98.8,280.0 101.0,290.0 104.0,306.0 95.0,306.0 96.5,290.0" fill="#ce261a" opacity="0.9" filter="url(#b1)"/>
<polygon points="88.0,312.0 110.0,312.0 113.0,340.0 113.0,375.0 108.0,405.0 88.0,405.0" fill="#a4260d" filter="url(#b15)"/>
<polygon points="93.0,312.0 106.0,312.0 110.0,340.0 111.5,365.0 107.0,382.0 100.0,378.0 96.0,345.0" fill="#c8400d" filter="url(#b15)"/>
<polygon points="95.0,312.0 103.0,312.0 107.0,335.0 109.0,360.0 105.0,374.0 101.0,360.0 98.0,335.0" fill="#da400d" opacity="0.9" filter="url(#b1)"/>
<rect x="96.0" y="402.3" width="14.0" height="2.7" fill="#de0d0d" opacity="0.9"/>
<g filter="url(#b05)">
<path d="M522.0 50V94.4h2.4V84.4h2.4V82.8h1.2V88.3h2.4V83.5h1.2V83.8h1.2V88.6h1.2V100.3h2.4V88.8h1.2V83.4h1.2V96.2h1.2V92.5h1.2V85.2h1.2V86.4h1.2V86.2h1.2V85.7h1.2V85.2h1.2V90.9h1.2V92.5h1.2V83.9h1.2V85.6h1.2V85.1h1.2V94.8h1.2V83.0h1.2V84.7h1.2V83.6h2.4V90.1h1.2V81.3h1.2V80.9h1.2V88.2h2.4V78.9h1.2V78.5h1.2V88.1h2.4V84.1h1.2V79.3h1.2V94.1h1.2V78.3h1.2V76.1h2.4V93.9h2.4V77.3h1.2V94.8h1.2V77.4h1.2V95.1h2.4V77.6h1.2V78.1h1.2V78.0h1.2V89.2h1.2V78.2h2.4V78.7h1.2V78.5h1.2V80.0h1.2V78.8h2.4V90.1h2.4V91.8h1.2V85.1h1.2V94.1h1.2V88.3h1.2V89.0h1.2V87.9h1.2V94.5h2.4V83.4h1.2V80.8h1.2V80.4h1.2V79.8h2.4V78.5h2.4V91.6h1.2V76.5h1.2V80.1h2.4V76.2h1.2V83.7h1.2V75.5h1.2V75.1h2.4V74.2h1.2V76.7h1.2V72.4h1.2V84.9h1.2V76.8h1.2V74.6h1.2V71.8h1.2V75.5h1.2V67.6h1.2V69.5h1.2V66.9h1.2V65.2h1.2V72.5h1.2V73.3h1.2V63.4h1.2V74.7h2.4V74.1h2.4V68.5h1.2V60.3h1.2V55.4h2.4V59.0h1.2V54.0h1.2V71.7h1.2V61.9h2.4V69.1h2.4V56.1h2.4V57.3h1.2V54.9h1.2V56.7h1.2V70.1h1.2V56.9h1.2V54.5h2.4V55.3h1.2V60.6h1.2V57.3h1.2V60.1h1.2V56.9h2.4V55.0h1.2V54.3h1.2V64.4h2.4V68.5h1.2V56.6h2.4V58.0h1.2V61.3h1.2V66.4h1.2V70.5h1.2V62.7h1.2V75.8h1.2V63.3h2.4V70.3h2.4V67.0h2.4V68.9h1.2V75.9h1.2V74.7h1.2V77.5h1.2V78.4h1.2V76.1h2.4V84.6h1.2V76.7h1.2V87.0h1.2V80.1h1.2V94.8h1.2V79.7h1.2V80.5h2.4V88.2h1.2V79.6h1.2V88.6h1.2V80.6h1.2V78.9h1.2V78.7h2.4V78.5h2.4V79.3h1.2V80.1h1.2V77.4h1.2V77.5h1.2V94.0h2.4V80.0h1.2V76.8h1.2V77.2h1.2V76.1h1.2V80.1h1.2V79.1h1.2V76.8h1.2V78.6h1.2V76.9h1.2V83.6h1.2V79.5h1.2V92.6h2.4V81.6h2.4V86.3h1.2V81.0h2.4V89.0h1.2V81.3h1.2V79.3h1.2V95.1h2.4V81.3h1.2V97.8h1.2V86.1h1.2V84.4h1.2V86.3h1.2V83.9h2.4V88.5h1.2V89.7h2.4V89.8h1.2V87.5h1.2V89.8h2.4V89.6h2.4V92.8h2.4V93.0h1.2V94.8h2.4V92.7h1.2V107.6h1.2V99.6h1.2V91.8h1.2V91.6h1.2V91.5h1.2V90.3h1.2V89.3h2.4V99.8h1.2V94.9h1.2V86.6h2.4V96.0h2.4V86.7h1.2V85.6h1.2V81.6h1.2V94.0h1.2V84.1h1.2V78.7h1.2V90.7h1.2V89.9h1.2V83.7h1.2V76.6h1.2V85.4h2.4V76.4h2.4V71.3h1.2V70.3h1.2V83.6h1.2V68.7h1.2V70.9h1.2V77.4h1.2V66.6h2.4V74.0h1.2V64.6h2.4V63.2h1.2V73.8h1.2V76.5h1.2V65.4h1.2V76.2h1.2V59.8h2.4V59.8h1.2V60.4h2.4V59.5h1.2V57.0h1.2V68.2h1.2V57.9h1.2V63.9h1.2V69.8h2.4V54.3h1.2V54.8h1.2V63.5h1.2V57.1h2.4V55.0h1.2V62.0h1.2V52.2h1.2V59.6h1.2V61.6h1.2V50.9h2.4V63.2h1.2V59.1h1.2V51.6h1.2V50.0h1.2V50.2h1.2V50.0h1.2V66.4h1.2V50.0h1.2V50.0h1.2V52.3h2.4V50.0h1.2V53.7h2.4V50Z" fill="#3d3300"/>
<path d="M522.0 50V82.3h1.2V71.3h1.2V81.9h1.2V76.8h1.2V82.9h1.2V71.0h2.4V74.7h1.2V80.0h1.2V88.3h2.4V81.6h1.2V79.9h1.2V76.9h1.2V76.7h1.2V85.2h1.2V77.2h1.2V77.2h2.4V80.5h2.4V79.6h1.2V82.0h2.4V82.4h1.2V71.8h1.2V80.1h1.2V76.5h1.2V70.7h2.4V81.2h1.2V77.6h1.2V69.0h1.2V74.0h1.2V70.7h2.4V67.2h1.2V82.2h1.2V67.8h2.4V74.7h1.2V65.6h1.2V71.4h2.4V78.3h1.2V72.1h1.2V69.4h1.2V75.0h1.2V73.9h2.4V70.1h2.4V81.5h1.2V68.7h1.2V73.3h1.2V78.7h1.2V69.7h1.2V76.0h1.2V68.6h1.2V73.8h1.2V81.1h1.2V76.3h1.2V70.2h1.2V67.0h2.4V68.1h1.2V68.1h1.2V83.0h1.2V76.4h1.2V75.6h1.2V71.4h1.2V76.5h1.2V83.3h1.2V82.9h1.2V82.7h2.4V74.4h1.2V72.7h1.2V71.6h1.2V69.6h1.2V71.1h1.2V73.6h1.2V78.9h2.4V72.0h1.2V72.1h2.4V76.2h2.4V66.3h2.4V62.0h1.2V75.6h1.2V70.6h1.2V70.4h2.4V60.9h1.2V59.1h1.2V60.7h1.2V59.2h1.2V62.6h2.4V58.7h1.2V58.1h1.2V55.9h1.2V50.0h1.2V50.0h1.2V55.5h2.4V56.0h1.2V55.9h1.2V55.7h1.2V50.0h1.2V56.6h2.4V55.2h1.2V50.0h1.2V50.6h1.2V52.2h1.2V50.0h2.4V54.8h1.2V50.0h1.2V53.8h1.2V50.0h1.2V50.0h1.2V50.0h2.4V50.0h1.2V54.3h1.2V50.0h2.4V52.6h1.2V50.0h2.4V53.2h1.2V50.0h1.2V56.3h1.2V56.6h2.4V60.4h2.4V53.5h1.2V59.4h1.2V62.5h2.4V51.6h1.2V65.9h1.2V60.6h2.4V54.4h1.2V60.9h2.4V71.6h1.2V63.2h1.2V61.4h1.2V71.0h1.2V74.8h1.2V60.8h2.4V77.8h2.4V68.5h1.2V67.3h1.2V74.9h1.2V75.8h2.4V74.3h1.2V73.5h1.2V77.3h1.2V81.4h2.4V81.7h2.4V77.0h1.2V73.6h1.2V71.9h1.2V82.0h1.2V82.4h2.4V78.2h1.2V75.4h1.2V79.7h1.2V79.8h2.4V77.1h2.4V73.5h2.4V70.3h1.2V66.1h1.2V74.5h1.2V72.4h1.2V66.6h1.2V64.9h1.2V78.5h1.2V70.0h1.2V80.1h1.2V66.2h2.4V65.8h1.2V71.7h1.2V78.5h1.2V68.6h2.4V75.0h2.4V84.4h1.2V73.5h1.2V70.7h2.4V88.2h1.2V76.9h1.2V73.8h1.2V83.9h2.4V84.7h1.2V89.2h1.2V78.5h2.4V83.1h1.2V91.1h1.2V92.5h1.2V81.8h1.2V94.2h2.4V95.5h1.2V88.3h2.4V84.2h1.2V85.7h1.2V84.3h1.2V87.7h1.2V85.0h1.2V78.9h2.4V86.2h1.2V86.6h1.2V77.5h1.2V75.0h2.4V82.1h2.4V72.2h1.2V72.0h1.2V75.4h1.2V72.9h1.2V82.8h2.4V75.6h1.2V78.1h1.2V71.0h2.4V71.9h2.4V70.1h2.4V75.7h1.2V68.6h1.2V60.9h1.2V61.4h1.2V57.0h2.4V57.1h2.4V65.9h1.2V61.9h1.2V55.1h1.2V59.4h1.2V59.8h1.2V58.4h1.2V65.8h1.2V57.0h1.2V57.5h1.2V59.9h1.2V50.0h1.2V57.4h2.4V50.0h1.2V50.0h1.2V51.1h1.2V50.0h1.2V52.1h1.2V50.0h1.2V52.0h1.2V57.9h1.2V50.0h1.2V50.0h1.2V54.5h1.2V50.0h1.2V50.0h1.2V50.0h2.4V50.0h1.2V50.0h2.4V50.0h1.2V50.0h2.4V50.0h1.2V50.0h1.2V50.0h1.2V50.0h1.2V50.0h1.2V50.0h1.2V50.0h1.2V50.0h2.4V50Z" fill="#564c00"/>
<path d="M522.0 50V62.3h2.4V72.1h2.4V76.0h2.4V75.3h2.4V75.5h2.4V69.5h1.2V68.3h1.2V65.7h2.4V63.0h1.2V62.2h1.2V72.6h2.4V73.3h1.2V76.6h1.2V61.4h1.2V61.4h2.4V79.2h2.4V72.3h2.4V67.7h1.2V76.7h2.4V77.2h1.2V73.5h1.2V65.8h2.4V56.8h1.2V64.7h2.4V52.8h1.2V53.1h1.2V50.0h2.4V66.6h1.2V56.5h1.2V59.0h1.2V67.6h2.4V51.7h2.4V50.0h1.2V59.8h1.2V56.5h1.2V52.7h2.4V70.7h2.4V57.1h1.2V54.8h1.2V71.8h1.2V54.4h1.2V63.2h1.2V55.1h1.2V66.2h1.2V68.1h1.2V73.9h1.2V71.8h1.2V59.0h1.2V61.3h2.4V57.4h1.2V55.3h1.2V59.3h1.2V65.2h1.2V72.5h1.2V73.2h1.2V67.7h1.2V76.2h1.2V68.0h1.2V54.4h1.2V61.6h1.2V60.3h1.2V61.7h1.2V50.0h1.2V61.3h1.2V67.4h2.4V51.4h1.2V53.1h1.2V64.5h1.2V51.1h1.2V70.0h1.2V60.9h1.2V50.0h2.4V50.0h2.4V55.3h1.2V50.0h1.2V59.2h2.4V50.9h1.2V52.3h1.2V50.0h1.2V50.0h2.4V50.0h2.4V50.7h1.2V50.0h1.2V50.0h1.2V50.0h2.4V50.0h1.2V50.0h1.2V50.0h1.2V50.0h1.2V50.0h2.4V50.0h1.2V50.0h1.2V50.0h1.2V50.0h1.2V50.0h1.2V50.0h1.2V50.0h1.2V50.0h2.4V50.0h1.2V50.0h1.2V50.0h2.4V50.0h2.4V50.0h1.2V50.0h1.2V50.0h1.2V50.0h2.4V50.0h1.2V50.0h2.4V50.0h1.2V50.0h1.2V53.0h1.2V50.0h1.2V50.0h1.2V50.0h1.2V54.8h1.2V50.0h1.2V50.0h1.2V50.0h2.4V54.7h1.2V50.0h1.2V61.6h2.4V50.5h1.2V50.0h1.2V50.0h1.2V56.2h1.2V51.0h2.4V65.7h2.4V59.8h2.4V71.4h1.2V64.4h1.2V53.7h2.4V60.3h1.2V66.3h1.2V69.0h1.2V64.6h2.4V57.1h1.2V51.8h1.2V53.6h1.2V67.5h1.2V50.4h1.2V69.8h1.2V51.4h2.4V56.7h2.4V55.7h1.2V59.9h1.2V51.6h1.2V50.0h1.2V58.1h1.2V61.4h2.4V61.0h1.2V56.2h1.2V64.8h2.4V70.2h1.2V62.0h1.2V59.0h2.4V61.9h2.4V55.2h1.2V58.7h1.2V53.3h1.2V68.4h1.2V64.7h2.4V68.4h1.2V75.3h1.2V67.3h1.2V70.6h1.2V60.9h1.2V58.1h1.2V59.5h2.4V59.4h2.4V81.3h2.4V71.9h1.2V65.8h1.2V65.8h2.4V70.4h1.2V74.9h1.2V84.7h1.2V74.9h1.2V80.8h1.2V81.2h1.2V86.6h1.2V73.2h1.2V85.7h1.2V64.5h1.2V82.8h2.4V72.5h1.2V81.9h1.2V60.5h1.2V67.1h1.2V72.2h1.2V77.6h1.2V72.5h1.2V70.8h2.4V54.9h1.2V71.7h1.2V67.1h1.2V66.0h2.4V56.1h1.2V69.8h2.4V70.3h2.4V50.0h2.4V60.3h1.2V50.5h1.2V53.6h1.2V50.0h1.2V50.0h1.2V56.2h1.2V51.7h1.2V50.0h2.4V57.5h2.4V50.8h1.2V50.0h1.2V55.7h1.2V53.0h1.2V50.0h1.2V55.5h1.2V50.0h1.2V50.6h2.4V50.0h1.2V50.0h1.2V50.0h2.4V50.0h1.2V50.1h1.2V50.0h1.2V50.0h1.2V50.0h1.2V50.0h2.4V50.0h2.4V50.0h2.4V50.0h1.2V50.0h2.4V50.0h2.4V50.0h1.2V50.0h1.2V50.0h1.2V50Z" fill="#644c00"/>
</g>
<ellipse cx="797.0" cy="70.0" rx="16.0" ry="13.0" fill="#7e8000" opacity="0.7" filter="url(#b4)"/>
<ellipse cx="545.0" cy="68.0" rx="14.0" ry="10.0" fill="#764c00" opacity="0.5" filter="url(#b4)"/>
<ellipse cx="750.0" cy="64.0" rx="22.0" ry="10.0" fill="#744c00" opacity="0.5" filter="url(#b4)"/>
<polygon points="640.0,50.0 705.0,50.0 695.0,62.0 650.0,62.0" fill="#401a00" opacity="0.8" filter="url(#b3)"/>
<rect x="541.5" y="70.0" width="1.2" height="42.0" fill="#3e0d0d" opacity="0.8"/>
<rect x="545.0" y="70.0" width="1.2" height="34.0" fill="#3e0d0d" opacity="0.8"/>
<rect x="603.0" y="70.0" width="1.2" height="26.0" fill="#3e0d0d" opacity="0.8"/>
<rect x="730.0" y="70.0" width="1.2" height="28.0" fill="#3e0d0d" opacity="0.8"/>
<rect x="735.0" y="70.0" width="1.2" height="34.0" fill="#3e0d0d" opacity="0.8"/>
<rect x="772.0" y="70.0" width="1.2" height="34.0" fill="#3e0d0d" opacity="0.8"/>
<rect x="780.0" y="70.0" width="1.2" height="36.0" fill="#3e0d0d" opacity="0.8"/>
<rect x="790.0" y="70.0" width="1.2" height="38.0" fill="#3e0d0d" opacity="0.8"/>
<rect x="801.0" y="70.0" width="1.2" height="42.0" fill="#3e0d0d" opacity="0.8"/>
<rect x="805.0" y="70.0" width="1.2" height="34.0" fill="#3e0d0d" opacity="0.8"/>
<rect x="907.0" y="156.5" width="62.0" height="4.0" fill="#200a03"/>
<rect x="887.0" y="140.0" width="2.0" height="20.0" fill="#2c0d0d" opacity="0.5" filter="url(#b05)"/>
<rect x="890.5" y="138.0" width="2.5" height="23.0" fill="#300d0d" opacity="0.5" filter="url(#b05)"/>
<rect x="540.0" y="180.0" width="10.0" height="3.0" fill="#300d0d" opacity="0.9"/>
<rect x="560.0" y="181.5" width="50.0" height="1.6" fill="#2e0d0d" opacity="0.8"/>
<rect x="840.0" y="180.0" width="70.0" height="3.2" fill="#2c0d0d" opacity="0.8"/>
<rect x="930.0" y="180.0" width="36.0" height="3.2" fill="#2c0d0d" opacity="0.8"/>
<rect x="524.0" y="186.8" width="442.0" height="3.5" fill="#3d0808"/>
<path d="M522.0 232V225.9h1.2V218.7h1.2V232.0h1.2V227.1h2.4V225.3h1.2V232.0h1.2V222.9h1.2V222.0h2.4V232.0h1.2V227.6h1.2V214.1h1.2V216.6h1.2V232.0h2.4V219.3h1.2V232.0h1.2V214.4h2.4V227.5h2.4V227.8h1.2V224.1h1.2V225.7h1.2V228.0h1.2V232.0h1.2V232.0h2.4V232.0h1.2V227.3h1.2V232.0h1.2V226.9h1.2V232.0h1.2V213.6h1.2V226.0h1.2V219.0h1.2V227.5h2.4V232.0h1.2V213.7h1.2V215.3h2.4V232.0h1.2V224.3h1.2V232.0h1.2V226.9h1.2V232.0h2.4V232.0h1.2V232.0h1.2V219.2h1.2V218.9h2.4V225.0h1.2V232.0h2.4V232.0h1.2V232.0h1.2V224.7h2.4V226.4h1.2V227.1h2.4V227.2h1.2V227.5h1.2V221.6h1.2V227.8h1.2V225.7h1.2V228.0h1.2V224.2h1.2V232.0h1.2V220.0h1.2V226.8h1.2V227.5h2.4V216.4h2.4V232.0h1.2V226.8h2.4V224.3h1.2V232.0h1.2V228.0h2.4V217.2h1.2V223.6h2.4V232.0h1.2V225.2h2.4V226.2h2.4V228.0h1.2V223.2h2.4V227.8h1.2V227.2h2.4V232.0h1.2V225.9h2.4V215.9h1.2V232.0h1.2V218.6h1.2V228.0h1.2V227.3h1.2V224.1h1.2V232.0h2.4V227.3h1.2V218.9h1.2V228.0h2.4V219.2h2.4V227.8h1.2V232.0h1.2V232.0h1.2V227.4h1.2V232.0h1.2V228.0h1.2V228.0h2.4V226.8h1.2V212.5h1.2V232.0h2.4V217.2h1.2V227.5h1.2V232.0h1.2V232.0h1.2V232.0h2.4V232.0h1.2V226.4h1.2V232.0h1.2V219.9h1.2V219.1h1.2V232.0h1.2V217.7h1.2V232.0h2.4V214.0h1.2V225.7h1.2V227.0h2.4V227.9h1.2V232.0h2.4V219.6h2.4V228.0h1.2V222.9h2.4V232.0h1.2V227.2h1.2V222.6h2.4V227.0h1.2V215.9h1.2V227.9h1.2V232.0h1.2V232.0h1.2V220.7h1.2V216.7h1.2V227.7h1.2V224.7h1.2V221.0h1.2V210.8h1.2V227.3h2.4V228.0h1.2V216.9h2.4V222.2h1.2V227.7h2.4V232.0h2.4V232.0h1.2V209.8h1.2V227.8h2.4V232.0h2.4V210.4h1.2V232.0h1.2V222.9h2.4V227.9h1.2V232.0h1.2V232.0h1.2V226.4h1.2V227.0h1.2V207.6h2.4V232.0h2.4V213.1h1.2V223.3h1.2V222.8h1.2V208.1h2.4V228.0h1.2V227.8h1.2V232.0h2.4V223.3h1.2V226.4h1.2V232.0h1.2V224.7h1.2V232.0h2.4V223.0h1.2V226.4h1.2V232.0h1.2V223.4h1.2V225.9h1.2V232.0h1.2V232.0h1.2V224.7h2.4V216.0h1.2V222.8h1.2V221.7h1.2V219.8h1.2V232.0h1.2V225.1h1.2V227.1h1.2V222.2h1.2V232.0h1.2V232.0h1.2V203.5h1.2V226.2h1.2V232.0h1.2V225.5h1.2V232.0h1.2V217.0h1.2V221.9h1.2V219.9h2.4V228.0h1.2V228.0h1.2V214.8h2.4V232.0h1.2V211.1h1.2V214.5h2.4V202.6h1.2V198.7h1.2V219.4h1.2V223.7h1.2V226.9h1.2V227.6h2.4V232.0h1.2V228.0h1.2V227.0h2.4V213.2h2.4V221.2h2.4V225.1h1.2V227.4h1.2V206.9h1.2V217.3h2.4V217.4h2.4V223.5h2.4V226.6h1.2V223.0h1.2V232.0h1.2V226.2h1.2V222.4h1.2V194.2h1.2V227.7h2.4V227.8h1.2V227.4h1.2V218.4h1.2V222.0h1.2V227.8h1.2V232.0h1.2V210.1h1.2V232.0h1.2V200.5h1.2V224.3h1.2V205.2h1.2V232.0h1.2V232.0h1.2V225.8h1.2V232.0h1.2V232.0h1.2V198.6h1.2V227.4h1.2V219.3h1.2V214.8h1.2V223.0h1.2V219.5h1.2V224.4h2.4V220.8h1.2V227.9h1.2V201.9h1.2V228.0h1.2V232.0h1.2V207.0h1.2V216.8h1.2V232.0h1.2V216.8h1.2V217.3h1.2V225.5h1.2V210.4h2.4V223.6h1.2V228.0h1.2V232.0h1.2V232.0h1.2V212.1h1.2V212.5h1.2V217.2h1.2V227.9h1.2V228.0h1.2V232.0h1.2V228.0h1.2V232.0h1.2V223.9h1.2V232.0h1.2V227.4h1.2V225.6h2.4V232.0h1.2V232.0h2.4V232.0h1.2V226.5h1.2V227.3h1.2V232.0h2.4V232.0h1.2V218.5h2.4V232.0h1.2V223.3h1.2V232.0h1.2V232.0h1.2V227.5h1.2V224.0h1.2V224.6h1.2V232.0h2.4V227.8h2.4V232.0h1.2V226.1h1.2V221.8h1.2V219.1h1.2V223.8h2.4V218.6h1.2V232.0h1.2V228.0h1.2V232.0h1.2V232.0h1.2V215.8h2.4V232.0h1.2V232Z" fill="#381a00" opacity="0.55" filter="url(#b05)"/>
<path d="M800.0 232V232.0h1.2V222.9h1.2V221.9h1.2V232.0h2.4V223.7h1.2V207.4h1.2V232.0h1.2V232.0h1.2V232.0h1.2V213.1h2.4V232.0h1.2V232.0h1.2V197.6h1.2V232.0h1.2V224.3h1.2V195.0h2.4V232.0h2.4V222.1h2.4V225.7h2.4V219.3h2.4V232.0h1.2V225.7h1.2V211.8h2.4V222.2h1.2V232.0h1.2V232.0h1.2V220.2h1.2V232.0h1.2V208.7h1.2V208.5h2.4V232.0h1.2V232.0h2.4V209.5h1.2V194.0h1.2V232.0h1.2V232.0h2.4V232.0h1.2V226.0h1.2V211.9h2.4V205.5h2.4V232.0h2.4V232.0h2.4V212.5h1.2V219.3h1.2V232.0h2.4V220.7h1.2V220.1h2.4V209.7h1.2V212.4h1.2V232.0h1.2V206.3h1.2V193.1h2.4V202.0h1.2V202.5h1.2V232.0h1.2V232.0h2.4V232.0h1.2V210.2h1.2V212.1h2.4V212.1h2.4V223.9h1.2V207.5h1.2V232.0h1.2V232Z" fill="#3d1a00" opacity="0.75" filter="url(#b05)"/>
<g filter="url(#b1)">
<polygon points="720.0,234.0 723.0,221.0 730.0,215.0 742.0,213.5 756.0,216.0 766.0,217.0 771.0,208.0 776.0,204.0 781.0,207.0 785.0,216.0 792.0,214.0 795.0,205.0 799.0,201.5 804.0,205.0 808.0,218.0 812.0,234.0" fill="#444c05" opacity="0.8"/>
<polygon points="772.0,222.0 774.5,209.0 777.0,205.5 780.0,209.0 783.0,222.0" fill="#604c05" opacity="0.75"/>
<polygon points="794.0,222.0 796.5,206.0 799.5,203.0 803.0,207.0 806.0,222.0" fill="#624c05" opacity="0.75"/>
<polygon points="726.0,236.0 729.0,220.0 740.0,216.0 752.0,219.0 764.0,222.0 766.0,236.0" fill="#544c0d" opacity="0.6"/>
</g>
<ellipse cx="544.0" cy="285.0" rx="5.0" ry="22.0" fill="#7a0d14" opacity="0.35" filter="url(#b3)"/>
<ellipse cx="556.0" cy="292.0" rx="4.0" ry="14.0" fill="#7a0d14" opacity="0.25" filter="url(#b3)"/>
<ellipse cx="597.0" cy="288.0" rx="5.0" ry="18.0" fill="#7a0d14" opacity="0.3" filter="url(#b3)" transform="rotate(8 597 288)"/>
<ellipse cx="612.0" cy="280.0" rx="4.0" ry="16.0" fill="#7a0d14" opacity="0.25" filter="url(#b3)" transform="rotate(-10 612 280)"/>
<ellipse cx="648.0" cy="278.0" rx="6.0" ry="14.0" fill="#7a0d14" opacity="0.3" filter="url(#b3)" transform="rotate(20 648 278)"/>
<ellipse cx="662.0" cy="268.0" rx="4.0" ry="12.0" fill="#7a0d14" opacity="0.2" filter="url(#b3)" transform="rotate(25 662 268)"/>
<ellipse cx="570.0" cy="296.0" rx="10.0" ry="10.0" fill="#7a0d14" opacity="0.2" filter="url(#b3)"/>
<rect x="545.5" y="296.0" width="1.5" height="10.0" fill="#960d0d" opacity="0.6" filter="url(#b05)"/>
<rect x="545.0" y="312.0" width="2.0" height="26.0" fill="#980d0d" opacity="0.4" filter="url(#b05)"/>
<rect x="553.0" y="312.0" width="1.5" height="30.0" fill="#960d0d" opacity="0.4" filter="url(#b05)"/>
<polygon points="836.0,222.0 853.0,222.0 862.0,250.0 872.0,290.0 874.0,306.0 860.0,306.0 852.0,275.0 842.0,248.0" fill="url(#g7)" filter="url(#b2)"/>
<rect x="863.8" y="278.0" width="1.6" height="28.0" fill="#980d0d" opacity="0.9" filter="url(#b05)"/>
<g filter="url(#b15)">
<polygon points="903.0,242.0 907.0,260.0 914.0,276.0 924.0,260.0 930.0,272.0 940.0,290.0 952.0,306.0 870.0,306.0 882.0,290.0 892.0,272.0 899.0,256.0" fill="#7e260f"/>
<polygon points="903.0,259.0 908.0,275.0 914.5,286.0 924.4,268.0 929.0,282.0 937.0,297.0 943.0,306.0 880.0,306.0 887.0,296.0 890.0,286.0 896.0,276.0" fill="#a0330f"/>
<polygon points="903.5,276.0 907.0,290.0 913.0,306.0 892.0,306.0 898.0,292.0" fill="#ba400f"/>
</g>
<rect x="902.5" y="282.0" width="2.5" height="24.0" fill="#d20d0d" opacity="0.8" filter="url(#b05)"/>
<polygon points="957.0,306.0 960.0,292.0 966.0,284.0 968.0,306.0" fill="#8a0d0d" opacity="0.8" filter="url(#b1)"/>
<polygon points="870.0,312.0 968.0,312.0 968.0,405.0 870.0,405.0" fill="#9c330d" opacity="0.35" filter="url(#b3)"/>
<polygon points="876.5,312.0 964.0,312.0 963.0,326.0 947.5,376.0 940.0,381.0 880.0,381.0 876.5,372.0" fill="#bb3308" filter="url(#b1)"/>
<rect x="877.0" y="312.0" width="86.0" height="10.0" fill="#ac4c08" opacity="0.6" filter="url(#b1)"/>
<ellipse cx="892.0" cy="347.0" rx="14.0" ry="22.0" fill="#d64008" opacity="0.8" filter="url(#b4)"/>
<ellipse cx="924.0" cy="352.0" rx="16.0" ry="20.0" fill="#c04008" opacity="0.45" filter="url(#b4)"/>
<polygon points="960.0,322.0 964.0,318.0 968.0,318.0 968.0,335.0 955.0,372.0 949.0,380.0 952.0,352.0" fill="#880d0d" opacity="0.9" filter="url(#b1)"/>
<rect x="863.0" y="312.0" width="1.6" height="93.0" fill="#aa0d0d" opacity="0.5" filter="url(#b05)"/>
<rect x="866.0" y="402.3" width="90.0" height="2.7" fill="#b4ff4c" opacity="0.8"/>
<rect x="88.0" y="428.0" width="253.0" height="76.5" fill="url(#g8)"/>
<rect x="522.0" y="428.0" width="446.0" height="76.5" fill="url(#g9)"/>
<rect x="170.0" y="476.0" width="169.5" height="10.0" fill="url(#g10)"/>
<rect x="150.0" y="486.0" width="189.5" height="10.0" fill="url(#g11)"/>
<rect x="150.0" y="496.0" width="189.5" height="8.5" fill="url(#g12)"/>
<rect x="104.5" y="435.0" width="1.6" height="69.0" fill="#98000f" opacity="0.7"/>
<rect x="104.5" y="476.0" width="1.8" height="28.0" fill="#e2000f" opacity="0.7"/>
<rect x="107.0" y="446.0" width="4.0" height="30.0" fill="#9e000f" opacity="0.7"/>
<rect x="111.3" y="432.0" width="1.8" height="26.0" fill="#96000f" opacity="0.9"/>
<rect x="110.8" y="458.0" width="2.6" height="46.0" fill="#e4000f" opacity="0.85"/>
<rect x="101.0" y="456.0" width="3.0" height="20.0" fill="#9e000f" opacity="0.6"/>
<rect x="139.0" y="466.0" width="5.0" height="10.0" fill="#9e000f" opacity="0.5"/>
<rect x="543.5" y="446.0" width="2.5" height="20.0" fill="#8c000f" opacity="0.5"/>
<rect x="543.5" y="466.0" width="3.5" height="20.0" fill="#a2000f" opacity="0.9"/>
<rect x="862.0" y="446.0" width="5.0" height="10.0" fill="#88000f" opacity="0.6"/>
<rect x="862.0" y="456.0" width="4.0" height="10.0" fill="#98000f" opacity="0.6"/>
<rect x="862.5" y="466.0" width="4.0" height="20.0" fill="#a2000f" opacity="0.9"/>
<rect x="862.0" y="486.0" width="5.0" height="18.0" fill="#e4000f" opacity="0.4"/>
<rect x="930.0" y="476.0" width="36.0" height="10.0" fill="url(#g13)"/>
<rect x="930.0" y="486.0" width="36.0" height="10.0" fill="url(#g14)"/>
<rect x="930.0" y="496.0" width="36.0" height="8.5" fill="url(#g15)"/>
</g></g>
<rect x="90" y="306" width="876" height="6" fill="#fff"/>
<rect x="979" y="52.4" width="14" height="353.1" fill="url(#cb)"/>
<rect x="979" y="429" width="14" height="75.5" fill="url(#cb)"/>
<g stroke="#000" stroke-width="1" fill="none" shape-rendering="crispEdges">
<rect x="90.5" y="51.5" width="876" height="354"/>
<rect x="90.5" y="428.5" width="876" height="76"/>
<path d="M81 405.5H90M86 375.5H90M86 358.5H90M86 346.5H90M86 337.5H90M86 329.5H90M86 322.5H90M86 316.5H90M86 311.5H90M81 307.5H90M86 277.5H90M86 260.5H90M86 248.5H90M86 239.5H90M86 231.5H90M86 224.5H90M86 218.5H90M86 213.5H90M81 209.5H90M86 179.5H90M86 162.5H90M86 150.5H90M86 141.5H90M86 133.5H90M86 126.5H90M86 120.5H90M86 115.5H90M81 111.5H90M86 81.5H90M86 64.5H90M86 52.5H90M81 428.5H90M81 470.5H90M86 457.5H90M86 450.5H90M86 445.5H90M86 441.5H90M86 437.5H90M86 435.5H90M86 432.5H90M86 430.5H90M86 499.5H90M86 492.5H90M86 487.5H90M86 483.5H90M86 479.5H90M86 477.5H90M86 474.5H90M86 472.5H90M97.5 504V509M129.5 504V514M161.5 504V509M193.5 504V509M225.5 504V509M257.5 504V514M289.5 504V509M321.5 504V509M353.5 504V509M385.5 504V514M417.5 504V509M449.5 504V509M481.5 504V509M513.5 504V514M545.5 504V509M577.5 504V509M609.5 504V509M641.5 504V514M673.5 504V509M705.5 504V509M737.5 504V509M769.5 504V514M801.5 504V509M833.5 504V509M865.5 504V509M897.5 504V514M929.5 504V509M961.5 504V509M992.5 52V405.5M992 385.5H1002M992 348.5H997M992 311.5H1002M992 274.5H997M992 237.5H1002M992 200.5H997M992 163.5H1002M992 126.5H997M992 89.5H1002M992 52.5H997M992.5 429V504.5M992 503.5H997M992 497.5H997M992 491.5H1002M992 485.5H997M992 479.5H997M992 472.5H997M992 466.5H997M992 460.5H1002M992 454.5H997M992 448.5H997M992 441.5H997M992 435.5H997M992 429.5H1002"/>
</g>
<path d="M137.3 51.5C139.0 54.2 144.5 62.8 147.7 67.5C150.9 72.2 153.6 75.9 156.6 79.9C159.6 83.9 162.5 87.8 165.5 91.5C168.5 95.2 171.5 98.7 174.4 102.1C177.3 105.5 180.2 108.9 183.2 111.9C186.1 115.0 189.1 117.6 192.1 120.4C195.1 123.2 198.1 126.0 201.0 128.7C203.9 131.4 206.9 133.9 209.8 136.4C212.8 138.9 215.3 141.0 218.7 143.8C222.1 146.6 226.4 150.2 230.0 153.0C233.6 155.8 236.8 158.3 240.2 160.6C243.6 162.9 246.9 164.9 250.3 166.9C253.7 168.9 257.1 170.6 260.5 172.3C263.9 174.0 267.2 175.6 270.6 177.1C274.0 178.6 277.4 180.1 280.8 181.4C284.2 182.8 287.5 184.0 290.9 185.2C294.3 186.4 297.7 187.5 301.1 188.6C304.5 189.7 307.9 190.7 311.3 191.6C314.7 192.5 317.7 193.2 321.4 194.1C325.1 195.0 331.6 196.4 333.6 196.9" stroke="#f0f" stroke-width="1.5" fill="none"/>
<path d="M526.5 203.0C529.8 202.7 539.7 202.0 546.4 201.3C553.1 200.6 559.9 199.7 566.7 198.9C573.5 198.1 580.2 197.4 587.0 196.5C593.8 195.6 600.5 194.5 607.3 193.6C614.1 192.7 620.9 191.9 627.7 190.8C634.5 189.8 641.2 188.5 648.0 187.3C654.8 186.1 661.5 184.8 668.3 183.5C675.1 182.2 681.8 180.9 688.6 179.4C695.4 177.9 702.1 176.2 708.9 174.5C715.7 172.8 724.0 170.4 729.2 169.0C734.4 167.6 735.1 167.4 740.0 165.8C744.9 164.2 752.6 161.6 758.4 159.6C764.2 157.6 769.7 155.8 775.0 154.0C780.3 152.2 784.3 150.8 790.0 148.5C795.7 146.2 802.9 143.2 809.4 140.2C815.9 137.2 822.2 133.9 828.7 130.5C835.2 127.0 841.7 123.4 848.1 119.5C854.5 115.6 861.0 111.5 867.4 107.3C873.8 103.1 880.3 98.8 886.8 94.4C893.2 90.0 899.6 85.2 906.1 80.8C912.6 76.4 921.3 70.7 925.5 67.8C929.7 64.9 928.4 66.1 931.3 63.4C934.2 60.7 941.0 53.5 942.9 51.5" stroke="#f0f" stroke-width="1.5" fill="none"/>
<text transform="translate(282.60 31) scale(0.9346 1)" font-size="14" xml:space="preserve">DE 1/PWI-SFC  Spin Plane B-Field Spectra, 1.0 m<tspan dy="-5" font-size="9.5">2</tspan><tspan dy="5"> loop antenna, 104 Hz to 409 kHz</tspan></text>
<text transform="translate(467.00 44) scale(0.9299 1)" font-size="10" font-weight="bold" xml:space="preserve"><tspan letter-spacing="0.5">(Magenta Line: Fce in Hz)</tspan></text>
<text transform="translate(324.70 419.5) scale(0.9413 1)" font-size="14" xml:space="preserve">DE 1/PWI-LFC  Spin Axis B-Field Spectra, search coil, 1.78 to 100 Hz</text>
<text transform="translate(440.80 612) scale(0.9047 1)" font-size="14" xml:space="preserve">1983-08-01 (213) 7:42 to 14:32</text>
<text transform="translate(54.81 413) scale(0.9 1)" font-size="14">10</text>
<text transform="translate(69.60 407) scale(0.9 1)" font-size="14">2</text>
<text transform="translate(54.81 315) scale(0.9 1)" font-size="14">10</text>
<text transform="translate(69.60 309) scale(0.9 1)" font-size="14">3</text>
<text transform="translate(54.81 217) scale(0.9 1)" font-size="14">10</text>
<text transform="translate(69.60 211) scale(0.9 1)" font-size="14">4</text>
<text transform="translate(54.81 119) scale(0.9 1)" font-size="14">10</text>
<text transform="translate(69.60 113) scale(0.9 1)" font-size="14">5</text>
<text transform="translate(54.81 436) scale(0.9 1)" font-size="14">10</text>
<text transform="translate(69.60 430) scale(0.9 1)" font-size="14">2</text>
<text transform="translate(54.81 478) scale(0.9 1)" font-size="14">10</text>
<text transform="translate(69.60 472) scale(0.9 1)" font-size="14">1</text>
<text transform="translate(47.3 272.30) rotate(-90) scale(0.9102 1)" font-size="14" xml:space="preserve">Frequency (Hz)</text>
<text transform="translate(47.3 493.10) rotate(-90) scale(0.8852 1)" font-size="14" xml:space="preserve">Freq (Hz)</text>
<text transform="translate(1005.40 392.7) scale(0.9 1)" font-size="14">10</text>
<text transform="translate(1018.90 386.7) scale(0.9 1)" font-size="14">-14</text>
<text transform="translate(1005.40 318.7) scale(0.9 1)" font-size="14">10</text>
<text transform="translate(1018.90 312.7) scale(0.9 1)" font-size="14">-12</text>
<text transform="translate(1005.40 244.7) scale(0.9 1)" font-size="14">10</text>
<text transform="translate(1018.90 238.7) scale(0.9 1)" font-size="14">-10</text>
<text transform="translate(1005.40 170.7) scale(0.9 1)" font-size="14">10</text>
<text transform="translate(1018.90 164.7) scale(0.9 1)" font-size="14">-8</text>
<text transform="translate(1005.40 96.7) scale(0.9 1)" font-size="14">10</text>
<text transform="translate(1018.90 90.7) scale(0.9 1)" font-size="14">-6</text>
<text transform="translate(1005.40 436.7) scale(0.9 1)" font-size="14">10</text>
<text transform="translate(1018.90 430.7) scale(0.9 1)" font-size="14">0</text>
<text transform="translate(1005.40 467.7) scale(0.9 1)" font-size="14">10</text>
<text transform="translate(1018.90 461.7) scale(0.9 1)" font-size="14">-5</text>
<text transform="translate(1005.40 498.7) scale(0.9 1)" font-size="14">10</text>
<text transform="translate(1018.90 492.7) scale(0.9 1)" font-size="14">-10</text>
<text transform="translate(1062.3 278.80) rotate(-90) scale(0.9029 1)" font-size="14" xml:space="preserve">SFC B (nT<tspan dy="-6">2</tspan><tspan dy="6"> Hz</tspan><tspan dy="-6">-1</tspan><tspan dy="6">)</tspan></text>
<text transform="translate(1055.1 484.00) rotate(-90) scale(0.8725 1)" font-size="14" xml:space="preserve">LFC H</text>
<text transform="translate(112.90 530) scale(0.9 1)" font-size="14">08:00</text>
<text transform="translate(112.90 546) scale(0.9 1)" font-size="14">1.458</text>
<text transform="translate(105.84 562) scale(0.9 1)" font-size="14">38.854</text>
<text transform="translate(112.90 578) scale(0.9 1)" font-size="14">0.447</text>
<text transform="translate(105.84 594) scale(0.9 1)" font-size="14">79.106</text>
<text transform="translate(240.90 530) scale(0.9 1)" font-size="14">09:00</text>
<text transform="translate(240.90 546) scale(0.9 1)" font-size="14">3.286</text>
<text transform="translate(240.90 562) scale(0.9 1)" font-size="14">3.447</text>
<text transform="translate(240.90 578) scale(0.9 1)" font-size="14">1.749</text>
<text transform="translate(234.85 594) scale(0.9 1)" font-size="14">11.216</text>
<text transform="translate(368.90 530) scale(0.9 1)" font-size="14">10:00</text>
<text transform="translate(497.78 530) scale(0.9 1)" font-size="14">11:00</text>
<text transform="translate(624.90 530) scale(0.9 1)" font-size="14">12:00</text>
<text transform="translate(624.90 546) scale(0.9 1)" font-size="14">4.436</text>
<text transform="translate(618.85 562) scale(0.9 1)" font-size="14">11.038</text>
<text transform="translate(624.90 578) scale(0.9 1)" font-size="14">2.683</text>
<text transform="translate(613.69 594) scale(0.9 1)" font-size="14">-50.339</text>
<text transform="translate(752.90 530) scale(0.9 1)" font-size="14">13:00</text>
<text transform="translate(752.90 546) scale(0.9 1)" font-size="14">3.591</text>
<text transform="translate(745.84 562) scale(0.9 1)" font-size="14">35.987</text>
<text transform="translate(752.90 578) scale(0.9 1)" font-size="14">4.258</text>
<text transform="translate(741.69 594) scale(0.9 1)" font-size="14">-71.436</text>
<text transform="translate(880.90 530) scale(0.9 1)" font-size="14">14:00</text>
<text transform="translate(880.90 546) scale(0.9 1)" font-size="14">1.948</text>
<text transform="translate(880.90 562) scale(0.9 1)" font-size="14">5.904</text>
<text transform="translate(873.84 578) scale(0.9 1)" font-size="14">12.691</text>
<text transform="translate(869.69 594) scale(0.9 1)" font-size="14">-55.009</text>
<text transform="translate(54.42 548.6) scale(0.92 1)" font-size="8.5">e</text>
<text transform="translate(45.18 544.6) scale(0.9 1)" font-size="14">R</text>
<text transform="translate(51.84 560.7) scale(0.9 1)" font-size="14">L</text>
<text transform="translate(50.28 580.6) scale(0.92 1)" font-size="8.5">LT</text>
<text transform="translate(39.60 576.6) scale(0.9 1)" font-size="14">M</text>
<text transform="translate(45.04 596.5) scale(0.92 1)" font-size="8.5">LAT</text>
<text transform="translate(34.38 592.5) scale(0.9 1)" font-size="14">M</text>
</svg></body></html>
